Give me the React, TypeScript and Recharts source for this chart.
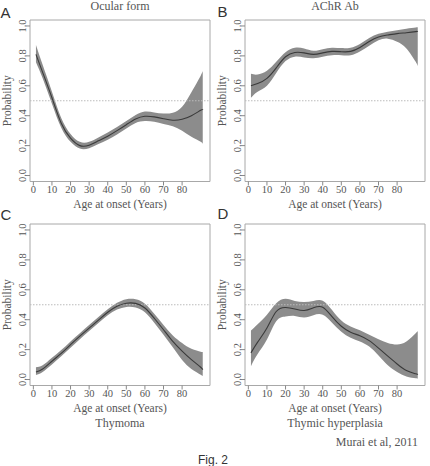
import {
  ComposedChart,
  Area,
  Line,
  XAxis,
  YAxis,
  ReferenceLine,
  ReferenceArea,
} from "recharts";

const AGES = [1.4, 5, 10, 15, 20, 25, 30, 35, 40, 45, 50, 55, 60, 65, 70, 75, 80, 85, 90, 91.1];

// A: ocular form
const OCULAR_MEAN = [0.81, 0.69, 0.52, 0.35, 0.25, 0.2, 0.203, 0.232, 0.263, 0.3, 0.34, 0.378, 0.396, 0.392, 0.38, 0.37, 0.376, 0.4, 0.436, 0.44];
const OCULAR_LOW = [0.757, 0.65, 0.48, 0.32, 0.225, 0.18, 0.183, 0.21, 0.24, 0.275, 0.315, 0.352, 0.365, 0.36, 0.345, 0.33, 0.3, 0.26, 0.226, 0.21];
const OCULAR_HIGH = [0.872, 0.74, 0.56, 0.385, 0.278, 0.225, 0.225, 0.255, 0.288, 0.325, 0.365, 0.405, 0.428, 0.422, 0.415, 0.42, 0.46, 0.557, 0.668, 0.7];

// B: AChR antibody
const ACHR_MEAN = [0.6, 0.615, 0.65, 0.72, 0.794, 0.823, 0.82, 0.81, 0.82, 0.83, 0.828, 0.83, 0.856, 0.896, 0.927, 0.94, 0.949, 0.955, 0.962, 0.965];
const ACHR_LOW = [0.52, 0.56, 0.6, 0.685, 0.765, 0.795, 0.79, 0.785, 0.795, 0.805, 0.805, 0.805, 0.83, 0.868, 0.905, 0.915, 0.895, 0.85, 0.76, 0.73];
const ACHR_HIGH = [0.68, 0.675, 0.7, 0.76, 0.825, 0.855, 0.85, 0.835, 0.845, 0.855, 0.852, 0.855, 0.88, 0.92, 0.948, 0.962, 0.972, 0.982, 0.99, 0.993];

// C: thymoma
const THYMOMA_MEAN = [0.05, 0.07, 0.122, 0.175, 0.233, 0.29, 0.344, 0.397, 0.45, 0.49, 0.51, 0.509, 0.478, 0.41, 0.333, 0.255, 0.19, 0.133, 0.082, 0.065];
const THYMOMA_LOW = [0.03, 0.05, 0.1, 0.155, 0.213, 0.27, 0.325, 0.378, 0.43, 0.468, 0.485, 0.482, 0.45, 0.38, 0.3, 0.215, 0.13, 0.07, 0.032, 0.022];
const THYMOMA_HIGH = [0.082, 0.095, 0.145, 0.197, 0.255, 0.31, 0.365, 0.418, 0.47, 0.513, 0.537, 0.537, 0.507, 0.44, 0.365, 0.295, 0.244, 0.205, 0.186, 0.184];

// D: thymic hyperplasia
const HYPER_MEAN = [0.178, 0.25, 0.344, 0.455, 0.482, 0.472, 0.462, 0.48, 0.484, 0.42, 0.356, 0.316, 0.293, 0.26, 0.21, 0.156, 0.104, 0.06, 0.038, 0.033];
const HYPER_LOW = [0.089, 0.17, 0.267, 0.39, 0.422, 0.425, 0.415, 0.43, 0.433, 0.38, 0.32, 0.28, 0.255, 0.22, 0.16, 0.095, 0.05, 0.02, 0.008, 0.005];
const HYPER_HIGH = [0.327, 0.37, 0.433, 0.51, 0.54, 0.525, 0.518, 0.525, 0.527, 0.465, 0.395, 0.355, 0.33, 0.3, 0.27, 0.245, 0.235, 0.255, 0.31, 0.325];

const X_TICKS = [0, 10, 20, 30, 40, 50, 60, 70, 80];
const Y_TICKS = [0, 0.2, 0.4, 0.6, 0.8, 1.0];

const X_DOMAIN: [number, number] = [-1.8, 95];
const Y_DOMAIN: [number, number] = [-0.04, 1.04];

const SERIF = '"Liberation Serif", "DejaVu Serif", serif';
const SANS = '"Liberation Sans", Arial, sans-serif';
const INK = "#555";

const rowsFor = (mean: number[], low: number[], high: number[]) =>
  AGES.map((age, i) => ({ age, mean: mean[i], band: [low[i], high[i]] }));

const YTick = ({ x, y, payload }: any) => (
  <text
    x={x}
    y={y}
    transform={`rotate(-90 ${x} ${y})`}
    textAnchor="middle"
    fill={INK}
    fontSize={10.5}
    fontFamily={SERIF}
  >
    {Number(payload.value).toFixed(1)}
  </text>
);

function Panel({ rows, left, top }: { rows: any[]; left: number; top: number }) {
  return (
    <div style={{ position: "absolute", left, top }}>
      <ComposedChart
        width={215}
        height={215}
        data={rows}
        margin={{ top: 20, right: 5, left: 0, bottom: 0 }}
      >
        <XAxis
          dataKey="age"
          type="number"
          domain={X_DOMAIN}
          allowDataOverflow
          ticks={X_TICKS}
          interval={0}
          height={33.5}
          tickSize={4}
          tickMargin={0}
          axisLine={false}
          tickLine={{ stroke: "#888" }}
          tick={{ fill: INK, fontSize: 10.5, fontFamily: SERIF }}
          label={{
            content: ({ viewBox }: any) => (
              <text
                x={viewBox.x + viewBox.width / 2}
                y={viewBox.y + 26}
                textAnchor="middle"
                fill={INK}
                fontSize={11.5}
                fontFamily={SERIF}
              >
                Age at onset (Years)
              </text>
            ),
          }}
        />
        <YAxis
          type="number"
          domain={Y_DOMAIN}
          allowDataOverflow
          ticks={Y_TICKS}
          interval={0}
          width={30}
          tickSize={4}
          tickMargin={0}
          axisLine={false}
          tickLine={{ stroke: "#888" }}
          tick={<YTick />}
          label={{
            content: ({ viewBox }: any) => {
              const cx = viewBox.x + 10.5;
              const cy = viewBox.y + viewBox.height / 2;
              return (
                <text
                  x={cx}
                  y={cy}
                  transform={`rotate(-90 ${cx} ${cy})`}
                  textAnchor="middle"
                  fill={INK}
                  fontSize={11.5}
                  fontFamily={SERIF}
                >
                  Probability
                </text>
              );
            },
          }}
        />
        <ReferenceArea
          x1={X_DOMAIN[0]}
          x2={X_DOMAIN[1]}
          y1={Y_DOMAIN[0]}
          y2={Y_DOMAIN[1]}
          fill="none"
          fillOpacity={0}
          stroke="#a8a8a8"
          strokeWidth={1}
          ifOverflow="visible"
        />
        <ReferenceLine y={0.5} stroke="#bbb" strokeDasharray="1.5 1.5" strokeWidth={1} />
        <Area
          dataKey="band"
          type="natural"
          stroke="none"
          fill="#8c8c8c"
          fillOpacity={1}
          isAnimationActive={false}
          dot={false}
          activeDot={false}
        />
        <Line
          dataKey="mean"
          type="natural"
          stroke="#3a3a3a"
          strokeWidth={1.1}
          dot={false}
          activeDot={false}
          isAnimationActive={false}
        />
      </ComposedChart>
    </div>
  );
}

export default function App() {
  const textStyle = { fill: INK, fontSize: 12, fontFamily: SERIF };
  const letterStyle = { fill: "#333", fontSize: 15, fontFamily: SANS };
  return (
    <div
      style={{
        position: "absolute",
        left: 0,
        top: 0,
        width: 430,
        height: 466,
        background: "#fff",
        overflow: "hidden",
      }}
    >
      <Panel rows={rowsFor(OCULAR_MEAN, OCULAR_LOW, OCULAR_HIGH)} left={0} top={0} />
      <Panel rows={rowsFor(ACHR_MEAN, ACHR_LOW, ACHR_HIGH)} left={215} top={0} />
      <Panel rows={rowsFor(THYMOMA_MEAN, THYMOMA_LOW, THYMOMA_HIGH)} left={0} top={203.5} />
      <Panel rows={rowsFor(HYPER_MEAN, HYPER_LOW, HYPER_HIGH)} left={215} top={203.5} />
      <svg
        width={430}
        height={466}
        style={{ position: "absolute", left: 0, top: 0, pointerEvents: "none" }}
      >
        <text x={120} y={9.5} textAnchor="middle" {...textStyle}>Ocular form</text>
        <text x={335} y={9.5} textAnchor="middle" {...textStyle}>AChR Ab</text>
        <text x={120} y={427} textAnchor="middle" {...textStyle}>Thymoma</text>
        <text x={335} y={427} textAnchor="middle" {...textStyle}>Thymic hyperplasia</text>
        <text x={418} y={446} textAnchor="end" {...textStyle}>Murai et al, 2011</text>
        <text x={0.5} y={18} {...letterStyle}>A</text>
        <text x={217.5} y={17} {...letterStyle}>B</text>
        <text x={0.5} y={220} {...letterStyle}>C</text>
        <text x={217.5} y={219} {...letterStyle}>D</text>
        <text x={198} y={464} fill="#333" fontSize={12} fontFamily={SANS}>Fig. 2</text>
      </svg>
    </div>
  );
}
